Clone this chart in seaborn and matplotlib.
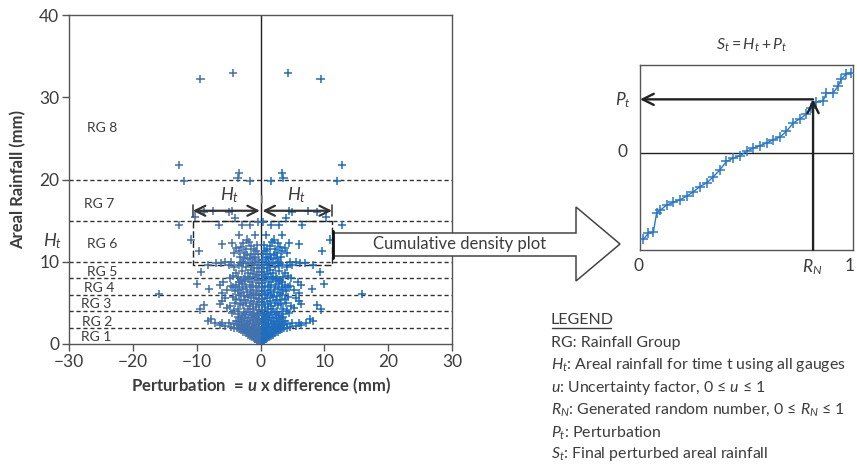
import matplotlib
matplotlib.use("Agg")
import matplotlib.pyplot as plt
import seaborn as sns
import pandas as pd
from matplotlib.patches import Polygon
from matplotlib.lines import Line2D

# ---------------- data ----------------
# right-hand (positive) perturbations (x = perturbation, y = areal rainfall)
sparse_right = [
    (4.3, 32.9), (9.4, 32.2), (12.7, 21.8), (12.0, 19.8), (3.3, 20.8), (3.6, 20.2), (1.7, 19.8),
    (4.4, 16.2), (4.9, 16.0), (7.4, 16.2), (8.8, 16.0), (10.3, 15.5), (4.0, 15.3),
    (0.4, 14.8), (1.7, 14.5), (2.9, 14.5), (6.5, 14.5), (12.8, 14.5),
    (10.9, 12.7), (9.7, 11.3), (6.1, 12.1), (3.3, 13.3), (2.1, 12.7), (3.8, 11.7), (4.1, 11.1),
    (2.6, 11.1), (0.9, 13.3), (1.5, 11.9), (0.7, 11.3), (2.5, 10.4), (1.2, 10.6), (1.8, 12.4),
    (2.8, 12.3), (3.0, 11.8), (0.5, 12.0),
    (2.8, 10.0), (4.6, 10.0), (6.9, 9.8), (8.2, 9.6), (4.1, 9.4), (3.4, 9.6), (5.5, 10.0), (1.9, 9.9),
    (9.3, 8.7), (9.9, 7.3), (4.8, 8.0), (3.8, 8.6), (2.5, 8.2), (3.1, 7.8),
    (8.0, 6.7), (6.4, 7.2), (4.6, 7.1), (6.1, 6.2), (15.9, 6.1), (3.5, 6.6), (5.2, 6.6),
    (8.9, 4.7), (9.4, 4.2), (6.1, 5.2), (6.4, 4.9), (4.8, 4.6), (4.1, 4.0), (5.5, 5.6),
    (7.7, 3.0), (8.2, 2.8), (7.2, 2.6), (6.4, 2.3), (5.6, 2.2), (4.6, 2.1), (5.0, 2.5), (6.0, 2.6),
]
dense_right = [
    (0.05, 0.1), (0.2, 0.2), (0.4, 0.3), (0.1, 0.4), (0.6, 0.45), (0.3, 0.55), (0.8, 0.6),
    (0.15, 0.7), (0.5, 0.75), (1.0, 0.7), (1.3, 0.85), (0.7, 0.9), (0.3, 0.95), (1.6, 1.0), (1.1, 1.05), (2.0, 1.1),
    (0.2, 1.15), (0.6, 1.2), (0.9, 1.25), (1.4, 1.3), (1.8, 1.3), (2.3, 1.35), (2.7, 1.45), (0.4, 1.45), (1.2, 1.5), (2.0, 1.5),
    (0.1, 1.6), (0.7, 1.65), (1.6, 1.7), (2.5, 1.7), (3.0, 1.75), (3.4, 1.8), (0.4, 1.85), (1.0, 1.9), (2.1, 1.9),
    (2.8, 1.95), (3.7, 2.0), (4.2, 2.0),
    (0.2, 2.05), (1.4, 2.1), (2.4, 2.15), (3.2, 2.2), (0.8, 2.25), (1.8, 2.3), (3.6, 2.35), (4.1, 2.4), (0.3, 2.45),
    (2.9, 2.45), (1.2, 2.5),
    (2.1, 2.6), (3.4, 2.65), (0.6, 2.7), (1.6, 2.75), (2.6, 2.8), (3.9, 2.85), (0.2, 2.9), (1.1, 2.95), (3.0, 3.0),
    (0.5, 3.1), (1.9, 3.15), (2.5, 3.2), (3.5, 3.25), (0.9, 3.3), (1.4, 3.4), (2.9, 3.45), (0.2, 3.5),
    (2.2, 3.6), (1.0, 3.65), (3.3, 3.7), (0.5, 3.8), (1.7, 3.85), (2.6, 3.95), (4.4, 3.8),
    (0.3, 4.1), (1.2, 4.2), (2.0, 4.3), (3.6, 4.3), (0.7, 4.5), (1.6, 4.6), (2.7, 4.7), (0.2, 4.8), (1.1, 4.9),
    (2.3, 5.0), (5.2, 4.4), (3.2, 4.9), (4.0, 5.0),
    (0.6, 5.1), (1.5, 5.2), (3.0, 5.3), (0.3, 5.5), (1.0, 5.6), (2.0, 5.7), (3.8, 5.5), (0.7, 5.9), (1.6, 5.95),
    (2.6, 5.85), (4.3, 5.7), (2.5, 5.3), (3.4, 6.0),
    (0.2, 6.1), (1.2, 6.2), (2.1, 6.3), (3.0, 6.2), (0.6, 6.5), (1.5, 6.6), (2.7, 6.7), (0.3, 6.9), (1.1, 6.95),
    (2.2, 6.9), (4.0, 6.4), (4.3, 6.9), (3.3, 6.9),
    (0.7, 7.1), (1.7, 7.2), (2.9, 7.3), (3.8, 7.2), (0.2, 7.4), (1.3, 7.5), (2.4, 7.6), (0.5, 7.8), (1.9, 7.85),
    (3.3, 7.5), (5.8, 7.5), (2.6, 7.9),
    (0.9, 8.1), (1.6, 8.2), (3.6, 8.1), (0.3, 8.4), (1.2, 8.5), (2.0, 8.6), (0.6, 8.8), (2.9, 8.9), (4.3, 8.3), (1.5, 9.0),
    (0.2, 9.2), (1.0, 9.3), (2.3, 9.4), (0.5, 9.6), (1.4, 9.7), (2.7, 9.8), (0.9, 9.95), (3.1, 9.9), (6.2, 9.9), (5.0, 9.6),
    (0.3, 10.2), (1.7, 10.3), (0.8, 10.5), (3.2, 10.6), (2.1, 10.8), (0.4, 10.9), (1.5, 11.0),
    (1.0, 11.5), (2.2, 11.6), (3.4, 11.3), (4.4, 12.3),
]
group_bounds = [2, 4, 6, 8, 10, 15, 20]
group_labels = ["RG 1", "RG 2", "RG 3", "RG 4", "RG 5", "RG 6", "RG 7", "RG 8"]
group_label_x = [-28.1, -28.0, -28.1, -27.7, -27.2, -27.2, -27.6, -27.2]
group_label_y = [0.9, 2.7, 4.9, 6.8, 8.7, 12.1, 17.0, 26.3]

# cumulative density plot (inset) : R_N on x, perturbation on y
cdf_x = [0.016, 0.039, 0.0625, 0.078, 0.094, 0.125, 0.156, 0.1875, 0.219, 0.25, 0.281, 0.3125,
         0.344, 0.375, 0.406, 0.4375, 0.469, 0.5, 0.531, 0.5625, 0.594, 0.625, 0.656, 0.6875,
         0.719, 0.75, 0.781, 0.805, 0.828, 0.859, 0.875, 0.906, 0.93, 0.945, 0.969, 0.99]
cdf_y = [-0.98, -0.91, -0.90, -0.68, -0.65, -0.59, -0.56, -0.53, -0.49, -0.44, -0.38, -0.34,
         -0.27, -0.19, -0.095, -0.057, -0.03, 0.019, 0.057, 0.084, 0.114, 0.152, 0.18, 0.247,
         0.34, 0.39, 0.44, 0.51, 0.58, 0.59, 0.68, 0.68, 0.76, 0.84, 0.90, 0.91]
rn_value = 0.8125
pt_value = 0.61

legend_lines = [
    "RG: Rainfall Group",
    r"$H_t$: Areal rainfall for time t using all gauges",
    r"$u$: Uncertainty factor, 0 ≤ $u$ ≤ 1",
    r"$R_N$: Generated random number, 0 ≤ $R_N$ ≤ 1",
    r"$P_t$: Perturbation",
    r"$S_t$: Final perturbed areal rainfall",
]

# ---------------- style ----------------
sns.set_theme(style="white")
plt.rcParams["font.family"] = ["Lato", "DejaVu Sans"]
plt.rcParams["mathtext.fontset"] = "custom"
plt.rcParams["mathtext.rm"] = "Lato"
plt.rcParams["mathtext.it"] = "Lato:italic"
plt.rcParams["mathtext.bf"] = "Lato:bold"
plt.rcParams["mathtext.bfit"] = "Lato:bold:italic"

TXT = "#3c3c3c"
W, H = 857, 468


def fx(px):
    return px / W


def fy(py):
    return 1 - py / H


fig = plt.figure(figsize=(W / 100, H / 100), dpi=100)

# ---------------- main scatter ----------------
ax = fig.add_axes([fx(69), fy(344), fx(452) - fx(69), fy(15) - fy(344)])
rows = []
for x, y in sparse_right + dense_right:
    rows.append({"perturbation": x, "rain": y, "side": "pos"})
    rows.append({"perturbation": -x, "rain": y, "side": "neg"})
df = pd.DataFrame(rows)

ax.axvline(0, color="#222222", lw=1, zorder=1)
for b in group_bounds:
    ax.axhline(b, color="#333333", lw=1, ls=(0, (3, 2)), zorder=1)

sns.scatterplot(data=df, x="perturbation", y="rain", hue="side",
                palette={"pos": "#1f6dbd", "neg": "#4272ad"},
                marker="+", s=34, linewidth=1.1, legend=False, ax=ax, zorder=3)

ax.set_xlim(-30, 30)
ax.set_ylim(0, 40)
ax.set_xticks(range(-30, 31, 10))
ax.set_yticks(range(0, 41, 10))
ax.tick_params(axis="both", direction="out", length=5, width=1, color="#555555",
               labelsize=12.5, labelcolor=TXT, pad=2)
ax.tick_params(axis="x", bottom=True)
ax.tick_params(axis="y", left=True)
for s in ax.spines.values():
    s.set_color("#555555")
    s.set_linewidth(1)
ax.set_xlabel(r"Perturbation  = $\mathbfit{u}$ x difference (mm)", fontsize=12,
              fontweight="bold", color=TXT, labelpad=4)
ax.set_ylabel("Areal Rainfall (mm)", fontsize=12, fontweight="bold", color=TXT, labelpad=9)

for lab, lx, ly in zip(group_labels, group_label_x, group_label_y):
    ax.text(lx, ly, lab, fontsize=10, color=TXT, va="center", ha="left", zorder=4)

# H_t on the y axis
ax.text(-0.042, 12.5, r"$H_t$", transform=ax.get_yaxis_transform(), fontsize=13,
        color=TXT, ha="center", va="center")

# dashed rectangle (RG 6 group, span of H_t)
ax.plot([-10.6, -10.6, 11.2, 11.2, -10.6], [15.0, 9.6, 9.6, 15.0, 15.0],
        color="#222222", lw=1, ls=(0, (5, 2)), zorder=2)

# H_t double arrows
ap = dict(arrowstyle="<->", lw=1.6, color="#333333", mutation_scale=18, shrinkA=0, shrinkB=0)
ax.annotate("", xy=(-10.6, 16.2), xytext=(-0.1, 16.2), arrowprops=ap, zorder=5)
ax.annotate("", xy=(11.2, 16.2), xytext=(0.3, 16.2), arrowprops=ap, zorder=5)
ax.plot([-10.6, -10.6], [15.4, 16.9], color="#444444", lw=1.2, zorder=5)
ax.plot([11.2, 11.2], [15.6, 16.9], color="#444444", lw=1.2, zorder=5)
ax.plot([0.3, 0.3], [17.2, 18.0], color="#888888", lw=1.2, zorder=5)
ax.text(-4.9, 18.1, r"$H_t$", fontsize=13, color=TXT, ha="center", va="center")
ax.text(5.7, 18.1, r"$H_t$", fontsize=13, color=TXT, ha="center", va="center")

# ---------------- block arrow ----------------
arrow_px = [(333, 233), (576, 233), (576, 207), (620, 244), (576, 281), (576, 256), (333, 256)]
fig.add_artist(Polygon([(fx(a), fy(b)) for a, b in arrow_px], closed=True,
                       transform=fig.transFigure, facecolor="white", edgecolor="#444444",
                       lw=1.1, zorder=10))
fig.add_artist(Line2D([fx(333), fx(333)], [fy(231), fy(258)], transform=fig.transFigure,
                      color="#111111", lw=2, zorder=11))
fig.text(fx(460), fy(244), "Cumulative density plot", fontsize=12, color=TXT,
         ha="center", va="center", zorder=12)

# ---------------- inset CDF ----------------
ax2 = fig.add_axes([fx(640), fy(250), fx(853) - fx(640), fy(65) - fy(250)])
ax2.axhline(0, color="#222222", lw=1, zorder=1)
sns.lineplot(x=cdf_x, y=cdf_y, marker="+", markersize=7, markeredgewidth=1.1,
             markeredgecolor="#2a78c8", color="#2a78c8", lw=1, ax=ax2, zorder=3)
ax2.set_xlim(0, 1)
ax2.set_ylim(-1.1, 1.0)
ax2.set_xticks([])
ax2.set_yticks([])
ax2.set_xlabel("")
ax2.set_ylabel("")
for s in ax2.spines.values():
    s.set_color("#555555")
    s.set_linewidth(1)
ap2 = dict(arrowstyle="->", lw=1.7, color="#222222", mutation_scale=20, shrinkA=0, shrinkB=0)
ax2.annotate("", xy=(rn_value, pt_value), xytext=(rn_value, -1.1), arrowprops=ap2, zorder=5,
             annotation_clip=False)
ax2.annotate("", xy=(0.0, pt_value), xytext=(rn_value, pt_value), arrowprops=ap2, zorder=5,
             annotation_clip=False)

fig.text(fx(639), fy(266), "0", fontsize=12.5, color=TXT, ha="center", va="center")
fig.text(fx(812), fy(267), r"$R_N$", fontsize=12.5, color=TXT, ha="center", va="center")
fig.text(fx(850), fy(266), "1", fontsize=12.5, color=TXT, ha="center", va="center")
fig.text(fx(623), fy(100), r"$P_t$", fontsize=12.5, color=TXT, ha="center", va="center")
fig.text(fx(622), fy(152), "0", fontsize=12.5, color=TXT, ha="center", va="center")
fig.text(fx(752), fy(45), r"$S_t = H_t + P_t$", fontsize=11.5, color=TXT, ha="center", va="center")

# ---------------- legend text ----------------
fig.text(fx(551), fy(320), "LEGEND", fontsize=11.5, color=TXT, ha="left", va="center")
fig.add_artist(Line2D([fx(552), fx(611)], [fy(328), fy(328)], transform=fig.transFigure,
                      color=TXT, lw=1))
leg_y = [343, 365, 388, 410, 433, 454]
for t, py in zip(legend_lines, leg_y):
    fig.text(fx(551), fy(py), t, fontsize=11.4, color=TXT, ha="left", va="center")

fig.savefig("out.png", dpi=100)
